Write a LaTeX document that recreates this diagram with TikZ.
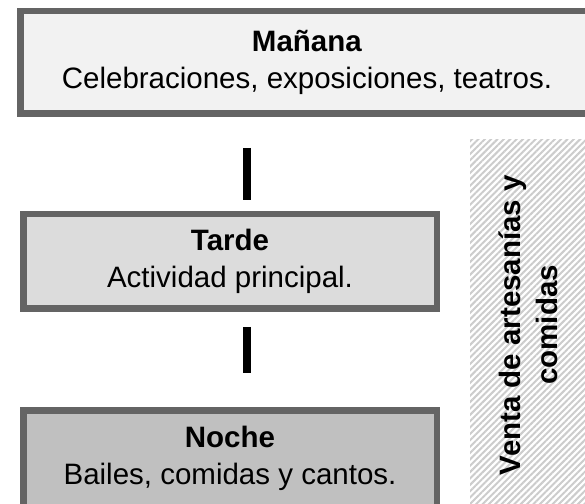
\documentclass[tikz,border=0pt]{standalone}
\usepackage{fontspec}
\setmainfont{Liberation Sans}
\usepackage{tikz}
\usetikzlibrary{patterns.meta}

\definecolor{borde}{RGB}{100,100,100}
\definecolor{fondoman}{RGB}{242,242,242}
\definecolor{fondotar}{RGB}{220,220,220}
\definecolor{fondonoc}{RGB}{192,192,192}
\definecolor{rayas}{RGB}{204,204,204}

\begin{document}
\begin{tikzpicture}[x=1pt, y=1pt,
    franja/.style={draw=borde, line width=6.5pt, align=center,
        font=\fontsize{29.5}{37}\selectfont},
    conector/.style={line width=8pt, black}]
    \clip (0,0) rectangle (585,503);

    % --- Mañana ---
    \node[franja, fill=fondoman, minimum width=573.5pt, minimum height=102.5pt] (mannana) at (307,440.5)
        {\textbf{Mañana}\\Celebraciones, exposiciones, teatros.};

    % --- Tarde ---
    \node[franja, fill=fondotar, minimum width=413.5pt, minimum height=94.5pt] (tarde) at (230,241.5)
        {\textbf{Tarde}\\Actividad principal.};

    % --- Noche ---
    \node[franja, fill=fondonoc, minimum width=413.5pt, minimum height=96.5pt] (noche) at (230,44.5)
        {\textbf{Noche}\\Bailes, comidas y cantos.};

    % --- Venta ---
    \fill[white] (470,0) rectangle (600,363);
    \fill[pattern={Lines[angle=45, distance=4.5pt, line width=2pt]}, pattern color=rayas]
        (470,0) rectangle (600,363);
    \node[rotate=90, align=center, font=\fontsize{29.5}{37}\selectfont\bfseries] (venta) at (528,178)
        {Venta de artesanías y\\comidas};

    % --- conectores ---
    \coordinate (eje) at (247,0);
    \draw[conector, shorten <=31pt, shorten >=11pt] (mannana.south -| eje) -- (tarde.north -| eje);
    \draw[conector, shorten <=15pt, shorten >=34pt] (tarde.south -| eje) -- (noche.north -| eje);
\end{tikzpicture}
\end{document}
